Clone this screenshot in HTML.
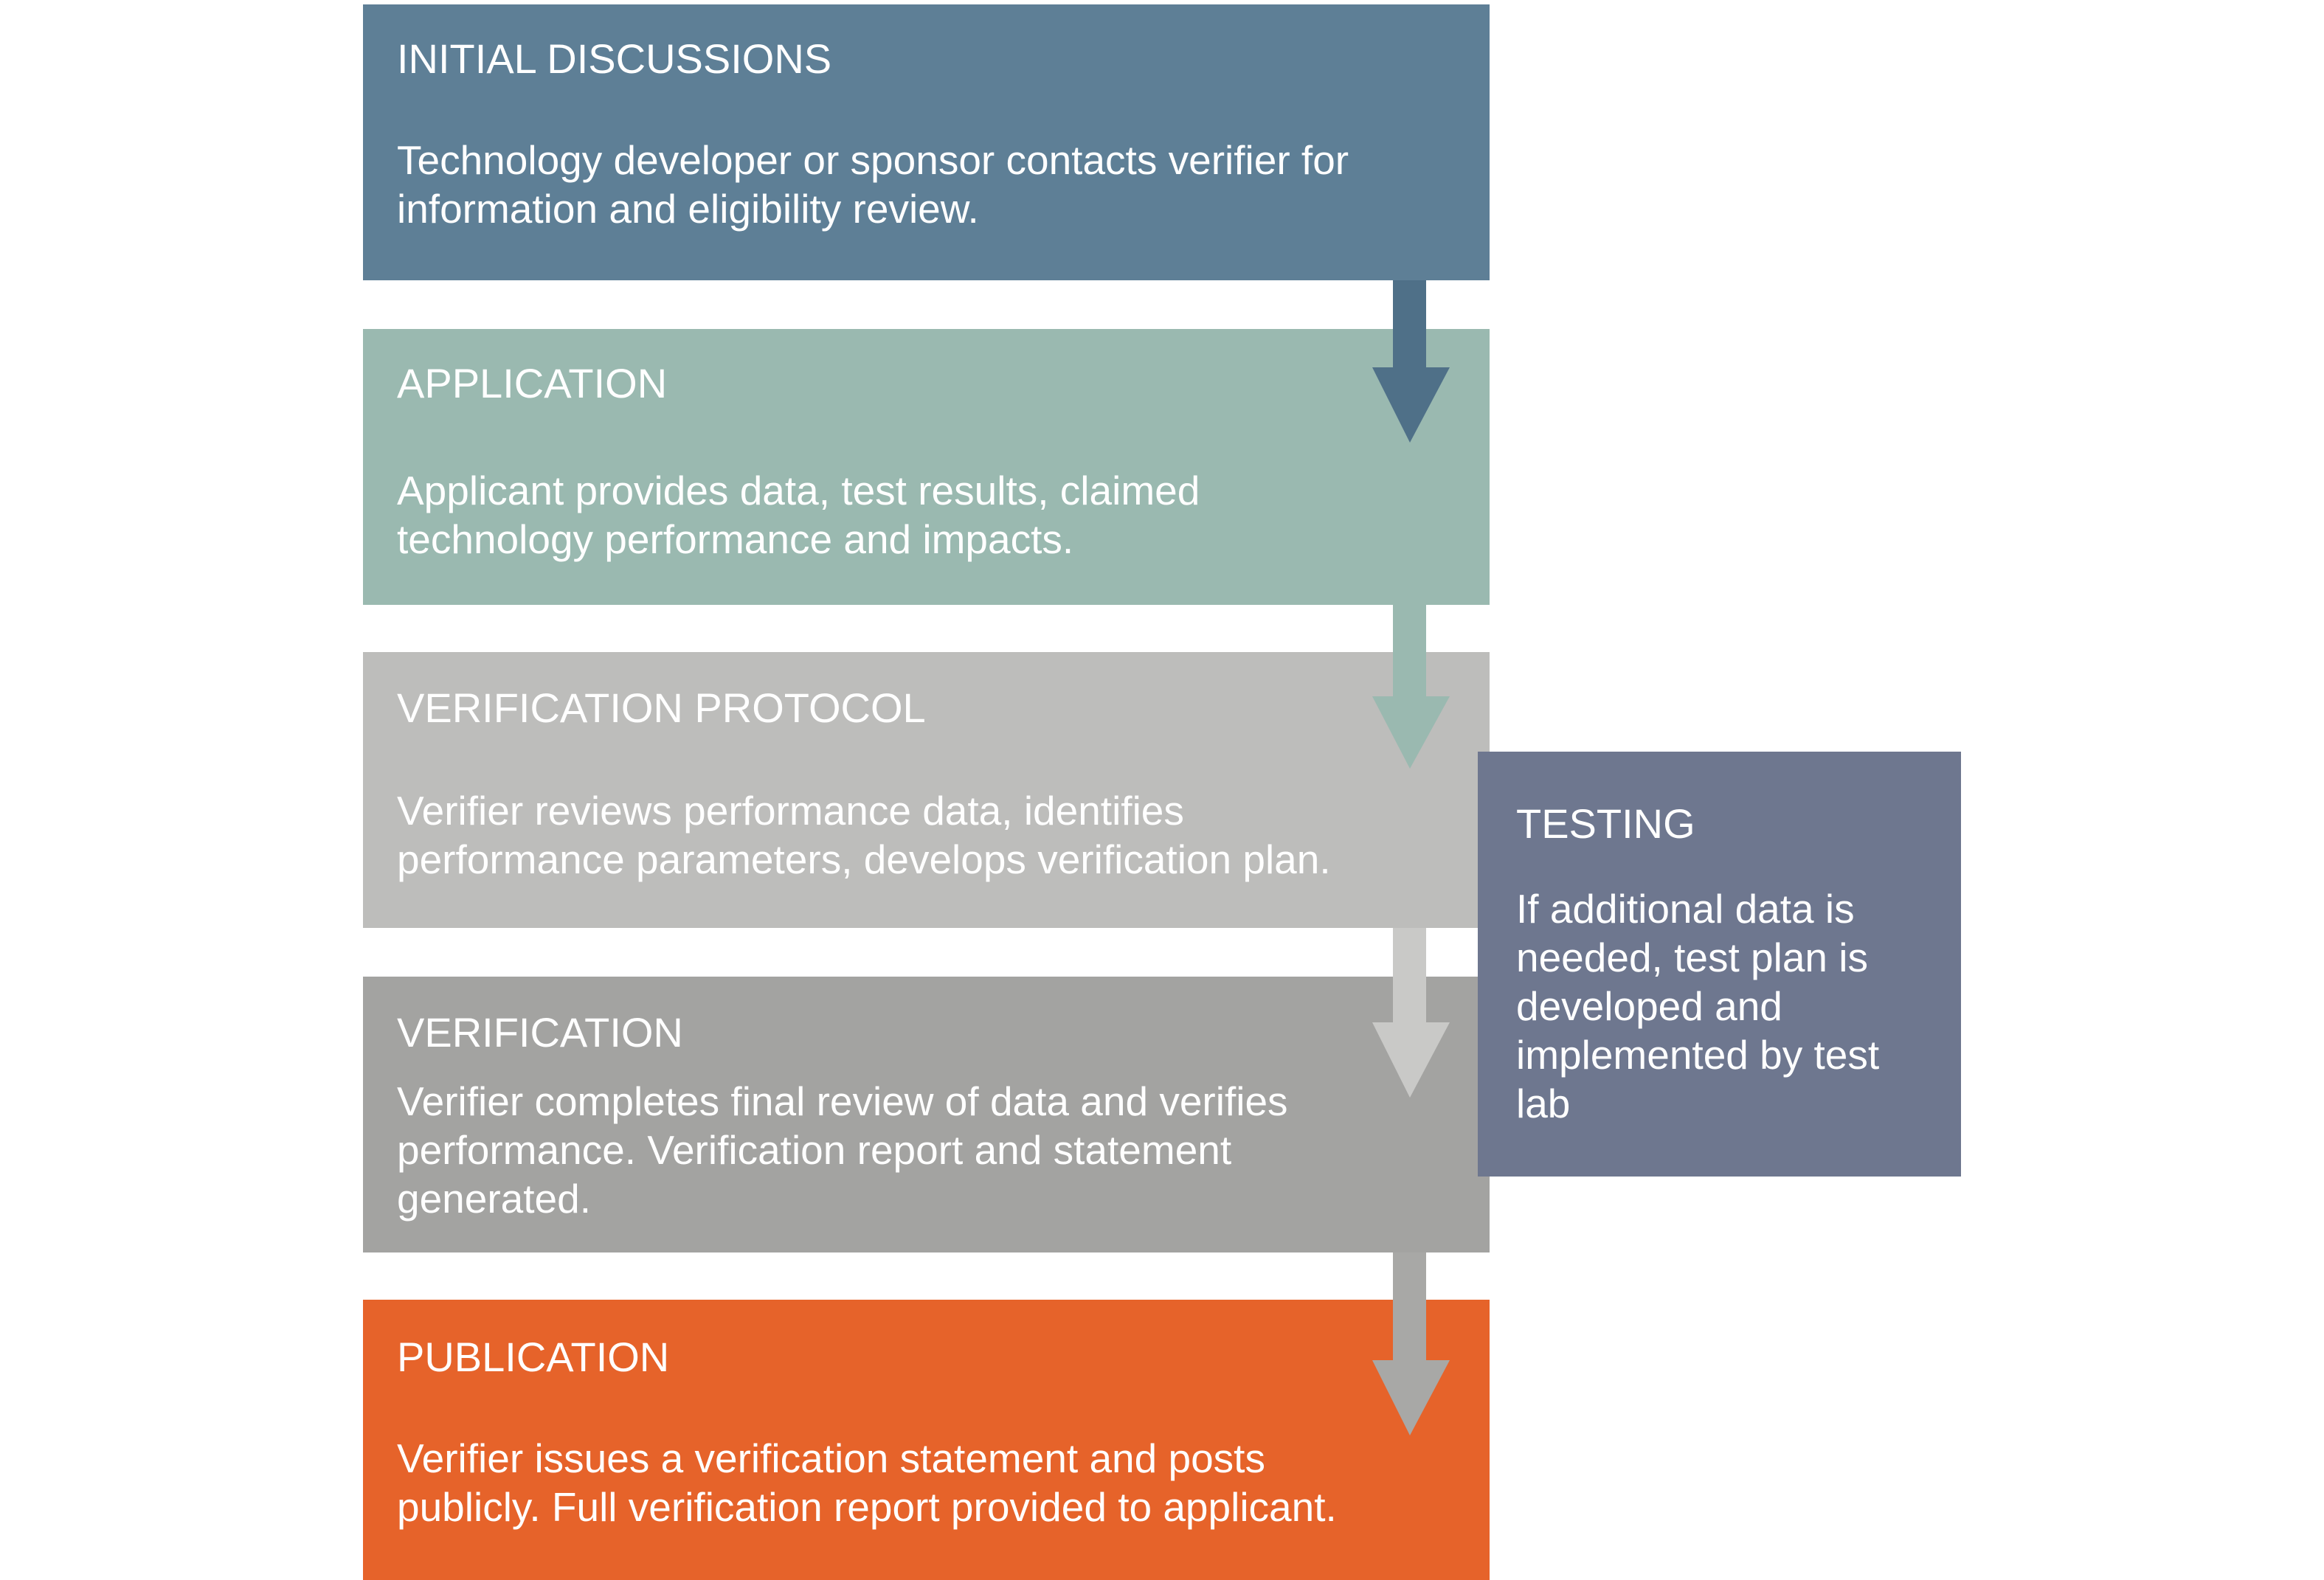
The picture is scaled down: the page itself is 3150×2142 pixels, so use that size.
<!DOCTYPE html>
<html><head><meta charset="utf-8"><style>
html,body{margin:0;padding:0;width:3150px;height:2140px;background:#fff;overflow:hidden}
.b{position:absolute;left:492px;width:1527px}
.t{position:absolute;font-family:"Liberation Sans",Arial,sans-serif;color:#fff;font-size:55px;line-height:66px;white-space:nowrap}
.h{font-size:56px}
svg{position:absolute;left:0;top:0}
</style></head><body>
<div class="b" style="top:6px;height:374px;background:#5e7f96"></div>
<div class="b" style="top:446px;height:374px;background:#9ab9b0"></div>
<div class="b" style="top:884px;height:374px;background:#bdbdbb"></div>
<div class="b" style="top:1324px;height:374px;background:#a3a3a1"></div>
<div class="b" style="top:1762px;height:380px;background:#e6632a"></div>
<svg width="3150" height="2140">
<polygon points="1888,380 1933,380 1933,498 1965,498 1911,600 1860,498 1888,498" fill="#4f7088"/>
<polygon points="1888,820 1933,820 1933,944 1965,944 1911,1042 1860,944 1888,944" fill="#9ab9b0"/>
<polygon points="1888,1258 1933,1258 1933,1386 1965,1386 1911,1488 1860,1386 1888,1386" fill="#c9c9c7"/>
<polygon points="1888,1698 1933,1698 1933,1844 1965,1844 1911,1946 1860,1844 1888,1844" fill="#a8a8a6"/>
</svg>
<div style="position:absolute;left:2003px;top:1019px;width:655px;height:576px;background:#6e778f"></div>
<div class="t h" style="left:538px;top:47px">INITIAL DISCUSSIONS</div>
<div class="t" style="left:538px;top:184px">Technology developer or sponsor contacts verifier for<br>information and eligibility review.</div>
<div class="t h" style="left:538px;top:487px">APPLICATION</div>
<div class="t" style="left:538px;top:632px">Applicant provides data, test results, claimed<br>technology performance and impacts.</div>
<div class="t h" style="left:538px;top:927px">VERIFICATION PROTOCOL</div>
<div class="t" style="left:538px;top:1066px">Verifier reviews performance data, identifies<br>performance parameters, develops verification plan.</div>
<div class="t h" style="left:538px;top:1367px">VERIFICATION</div>
<div class="t" style="left:538px;top:1460px">Verifier completes final review of data and verifies<br>performance. Verification report and statement<br>generated.</div>
<div class="t h" style="left:538px;top:1807px">PUBLICATION</div>
<div class="t" style="left:538px;top:1944px">Verifier issues a verification statement and posts<br>publicly. Full verification report provided to applicant.</div>
<div class="t h" style="left:2055px;top:1084px">TESTING</div>
<div class="t" style="left:2055px;top:1199px">If additional data is<br>needed, test plan is<br>developed and<br>implemented by test<br>lab</div>
</body></html>
